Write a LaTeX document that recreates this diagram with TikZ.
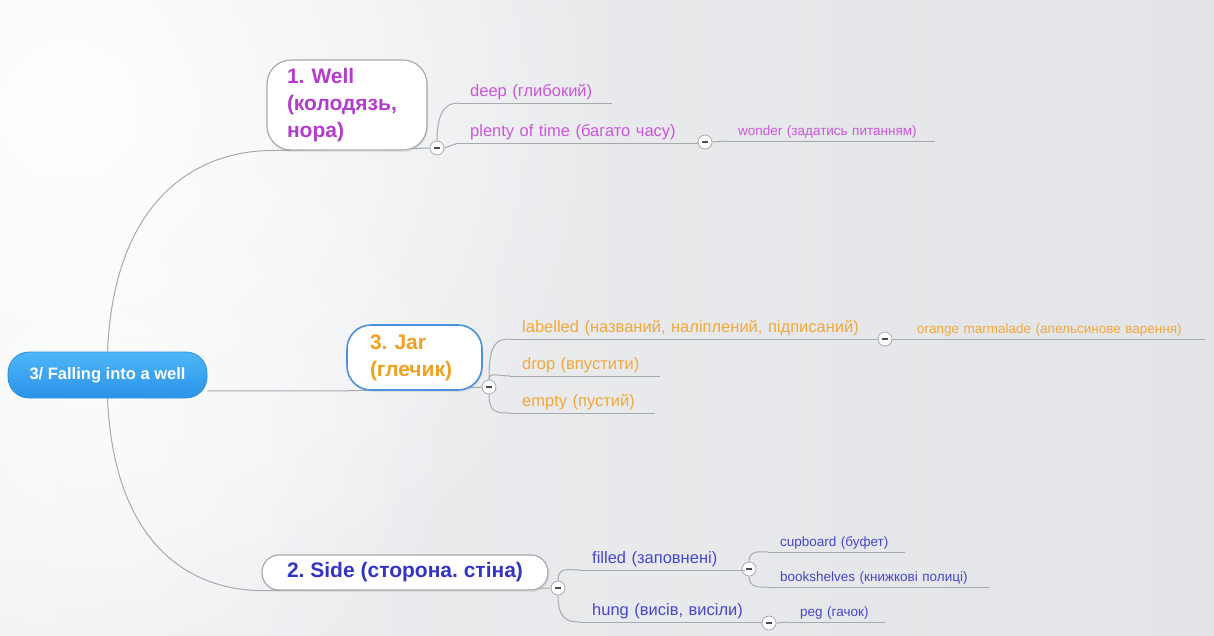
\documentclass[tikz,border=0pt]{standalone}
\usepackage{fontspec}
\setmainfont{Liberation Sans}
\frenchspacing
\usetikzlibrary{shadows,backgrounds,fadings}
\tikzfading[name=softglow, inner color=transparent!0, outer color=transparent!100]
\definecolor{bgc}{HTML}{E3E4E7}
\definecolor{bgl}{HTML}{EEEFF1}
\definecolor{linec}{HTML}{A6AAAE}
\definecolor{roottop}{HTML}{4DB6F8}
\definecolor{rootbot}{HTML}{2B93E8}
\definecolor{rootdraw}{HTML}{2A8FE2}
\definecolor{purp}{HTML}{B23CCB}
\definecolor{purpl}{HTML}{CC55DD}
\definecolor{orng}{HTML}{F2A020}
\definecolor{orngl}{HTML}{F2A83A}
\definecolor{blu}{HTML}{3434C4}
\definecolor{blul}{HTML}{4646CC}
\definecolor{jarblue}{HTML}{4A92DC}
\tikzset{
  conn/.style={draw=linec, line width=1pt},
  rootnode/.style={rounded corners=21pt, top color=roottop, bottom color=rootbot, draw=rootdraw, line width=0.8pt,
    minimum width=199pt, minimum height=46pt, text=white,
    font=\fontsize{16.5}{19}\selectfont\bfseries},
  topic/.style={rounded corners=24pt, fill=white, draw=linec, line width=1.2pt,
    align=left, font=\fontsize{21}{27}\selectfont\bfseries,
    drop shadow={opacity=0.15, shadow xshift=1pt, shadow yshift=-2pt}},
  sub/.style={anchor=south west, inner xsep=12pt, inner ysep=3pt, align=left,
    font=\fontsize{16.5}{19}\selectfont},
  small/.style={sub, font=\fontsize{13.5}{16}\selectfont},
  uline/.style={draw=linec, line width=1pt},
  collapse/.style={circle, draw=linec, fill=white, minimum size=14pt, inner sep=0pt, line width=0.8pt,
    path picture={\draw[line width=1.6pt, black!70] ([xshift=-3pt]path picture bounding box.center) -- ([xshift=3pt]path picture bounding box.center);}},
}
\begin{document}
\begin{tikzpicture}[x=1pt,y=-1pt]
\useasboundingbox (0,0) rectangle (1214,635);

% root
\node[rootnode] (root) at (107.5,375) {3/ Falling into a well};

% topics
\node[topic, text=purp, minimum width=160pt, minimum height=90pt, text width=120pt, inner xsep=20pt] (well) at (347,105) {1. Well\\(колодязь,\\нора)};
\node[topic, text=orng, draw=jarblue, line width=1.6pt, minimum width=135pt, minimum height=65pt, text width=89pt, inner xsep=23pt] (jar) at (414.5,357.5) {3. Jar\\(глечик)};
\node[topic, rounded corners=17pt, text=blu, minimum width=286pt, minimum height=35pt] (side) at (405,572.5) {2. Side (сторона. стіна)};

% collapse markers
\node[collapse] (c1) at (437,148) {};
\node[collapse] (c1b) at (705,142) {};
\node[collapse] (c3) at (489,387) {};
\node[collapse] (c3b) at (885,339) {};
\node[collapse] (c2) at (558,588) {};
\node[collapse] (c2a) at (749,569) {};
\node[collapse] (c2b) at (769,623) {};

% subtopics: well
\node[sub, text=purpl, text width=130pt] (deep) at (458,103) {deep (глибокий)};
\node[sub, text=purpl, text width=216pt] (plenty) at (458,143) {plenty of time (багато часу)};
\node[small, text=purpl, text width=185pt] (wonder) at (726,141) {wonder (задатись питанням)};
% jar
\node[sub, text=orngl, text width=344pt] (labelled) at (510,339) {labelled (названий, наліплений, підписаний)};
\node[small, text=orngl, text width=276pt] (marm) at (905,339) {orange marmalade (апельсинове варення)};
\node[sub, text=orngl, text width=126pt] (drop) at (510,376) {drop (впустити)};
\node[sub, text=orngl, text width=121pt] (empty) at (510,413) {empty (пустий)};
% side
\node[sub, text=blul, text width=141pt] (filled) at (580,570) {filled (заповнені)};
\node[sub, text=blul, text width=158pt] (hung) at (580,622) {hung (висів, висіли)};
\node[small, text=blul, text width=113pt] (cup) at (768,552) {cupboard (буфет)};
\node[small, text=blul, text width=198pt] (books) at (768,587) {bookshelves (книжкові полиці)};
\node[small, text=blul, text width=73pt] (peg) at (788,622) {peg (гачок)};

% underlines
\foreach \n in {deep,plenty,wonder,labelled,marm,drop,empty,filled,hung,cup,books,peg}
  \draw[uline] (\n.south west) -- (\n.south east);

\begin{scope}[on background layer]
  \shade[left color=bgl, right color=bgc] (0,0) rectangle (1214,635);
  \begin{scope}
    \clip (0,0) rectangle (1214,635);
    \fill[white, path fading=softglow] (70,110) circle (560);
    \fill[white, path fading=softglow, opacity=0.6] (90,420) circle (380);
  \end{scope}
  % main branches
  \draw[conn] (root.north) .. controls (114,200) and (195,153) .. (well.south west) -- (c1);
  \draw[conn] (root.east |- jar.south west) -- (jar.south west) -- (c3);
  \draw[conn] (root.south) .. controls (114,545) and (190,590) .. (side.south west) -- (c2);
  % well branch
  \draw[conn] (c1.north) .. controls +(0,-32) and +(-10,0) .. (deep.south west);
  \draw[conn] (c1.east) -- (plenty.south west);
  \draw[conn] (plenty.south east) -- (c1b.west);
  \draw[conn] (c1b.east) -- (wonder.south west);
  % jar branch
  \draw[conn] (c3.north) .. controls +(0,-36) and +(-14,0) .. (labelled.south west);
  \draw[conn] (c3.north) .. controls +(0,-8) and +(-12,0) .. (drop.south west);
  \draw[conn] (c3.south) .. controls +(0,18) and +(-14,0) .. (empty.south west);
  \draw[conn] (labelled.south east) -- (c3b.west);
  \draw[conn] (c3b.east) -- (marm.south west);
  % side branch
  \draw[conn] (c2.north) .. controls +(0,-14) and +(-12,0) .. (filled.south west);
  \draw[conn] (c2.south) .. controls +(0,24) and +(-12,0) .. (hung.south west);
  \draw[conn] (filled.south east) -- (c2a.west);
  \draw[conn] (c2a.north) .. controls +(0,-12) and +(-8,0) .. (cup.south west);
  \draw[conn] (c2a.south) .. controls +(0,12) and +(-8,0) .. (books.south west);
  \draw[conn] (hung.south east) -- (c2b.west);
  \draw[conn] (c2b.east) -- (peg.south west);
\end{scope}
\end{tikzpicture}
\end{document}
